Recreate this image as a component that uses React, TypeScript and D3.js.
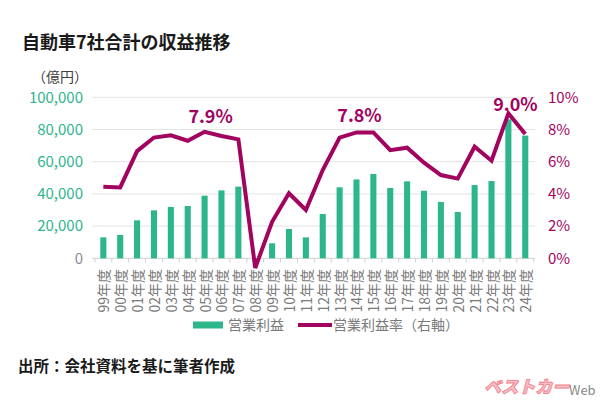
import React from "react";
import * as d3 from "d3";

const categories = ["99","00","01","02","03","04","05","06","07","08","09","10","11","12","13","14","15","16","17","18","19","20","21","22","23","24"];
const profit = [13000,14500,23600,29800,31900,32500,38900,42200,44500,-1500,9300,18200,13000,27500,44100,49000,52400,43700,47800,42000,35000,28800,45500,48000,86300,76200];
const rate = [4.45,4.4,6.66,7.5,7.64,7.3,7.86,7.6,7.39,-0.6,2.27,4.04,3.0,5.48,7.5,7.82,7.82,6.72,6.87,5.94,5.17,4.95,6.93,6.06,9.0,7.72];
const leftTicks = [0,20000,40000,60000,80000,100000];
const rightTicks = [0,2,4,6,8,10];
const callouts = [
  { i: 6, label: "7.9%", dx: 6, dy: -9 },
  { i: 15, label: "7.8%", dx: 3, dy: -10.5 },
  { i: 24, label: "9.0%", dx: 7, dy: -2.5 },
];

const GREEN = "#2DB58B";
const MAG = "#A1035F";
const FONT = "'Noto Sans CJK JP','Noto Sans',sans-serif";

export default function App() {
  const W = 600, H = 400;
  const x = d3.scaleBand().domain(categories).range([94.9, 533.7]).padding(0);
  const yL = d3.scaleLinear().domain([0, 100000]).range([258.3, 97.3]);
  const yR = d3.scaleLinear().domain([0, 10]).range([258.3, 97.3]);
  const bw = x.bandwidth() * 0.36;
  const cx = (c: string) => (x(c) as number) + x.bandwidth() / 2;
  const line = d3.line<number>().x((_, i) => cx(categories[i])).y(d => yR(d));
  const fmt = d3.format(",");
  return (
    <svg width={W} height={H} viewBox={`0 0 ${W} ${H}`} style={{ position: "absolute", left: 0, top: 0, background: "#fff", fontFamily: FONT }}>
      <rect width={W} height={H} fill="#fff" />
      <text x={22} y={49} fontSize={18} fontWeight={700} fill="#1a1a1a">自動車7社合計の収益推移</text>
      <text x={32} y={82} fontSize={14} fill="#404040">（億円）</text>
      {leftTicks.map(t => (
        <g key={"g" + t}>
          <line x1={92} x2={535} y1={yL(t)} y2={yL(t)} stroke={t === 0 ? "#d0d0d0" : "#e3e3e3"} strokeWidth={1} />
          <text x={83} y={yL(t)} dy="0.35em" textAnchor="end" fontSize={15} fill={t === 0 ? "#8c8c8c" : GREEN}>{fmt(t)}</text>
        </g>
      ))}
      {rightTicks.map(t => (
        <text key={"r" + t} x={548} y={yR(t)} dy="0.35em" fontSize={15} fill={MAG}>{t}%</text>
      ))}
      {[...categories.map(c => x(c) as number), 533.7].map((v, i) => (
        <line key={"t" + i} x1={v} x2={v} y1={258.3} y2={262.5} stroke="#d0d0d0" />
      ))}
      {categories.map((c, i) => {
        const v = profit[i];
        const y0 = yL(Math.max(0, v)), y1 = yL(Math.min(0, v));
        return <rect key={"b" + c} x={cx(c) - bw / 2} y={y0} width={bw} height={y1 - y0} fill={GREEN} />;
      })}
      <path d={line(rate) as string} fill="none" stroke={MAG} strokeWidth={4} strokeLinejoin="miter" strokeMiterlimit={4} />
      {callouts.map(o => (
        <text key={o.label} x={cx(categories[o.i]) + o.dx} y={yR(rate[o.i]) + o.dy} textAnchor="middle" fontSize={18} fontWeight={600} fill={MAG}>{o.label}</text>
      ))}
      {categories.map(c => (
        <text key={"x" + c} transform={`translate(${cx(c)},269) rotate(-90)`} textAnchor="end" dominantBaseline="central" fontSize={14} fill="#7a7a7a">{c}年度</text>
      ))}
      <rect x={193} y={321.5} width={30} height={7} fill={GREEN} />
      <text x={228} y={325} dy="0.35em" fontSize={14} fill="#7a7a7a">営業利益</text>
      <line x1={298} x2={332} y1={325} y2={325} stroke={MAG} strokeWidth={4} />
      <text x={333} y={325} dy="0.35em" fontSize={14} fill="#7a7a7a">営業利益率（右軸）</text>
      <text x={18} y={372} fontSize={15.5} fontWeight={700} fill="#1a1a1a">出所：会社資料を基に筆者作成</text>
      <text x={484} y={393} fontSize={17} fontWeight={900} fontStyle="italic" fill="#F8C0C6" stroke="#F0828F" strokeWidth={0.9}>ベストカー</text>
      <text x={569} y={395} fontSize={13} fill="#8a8a8a">Web</text>
    </svg>
  );
}
